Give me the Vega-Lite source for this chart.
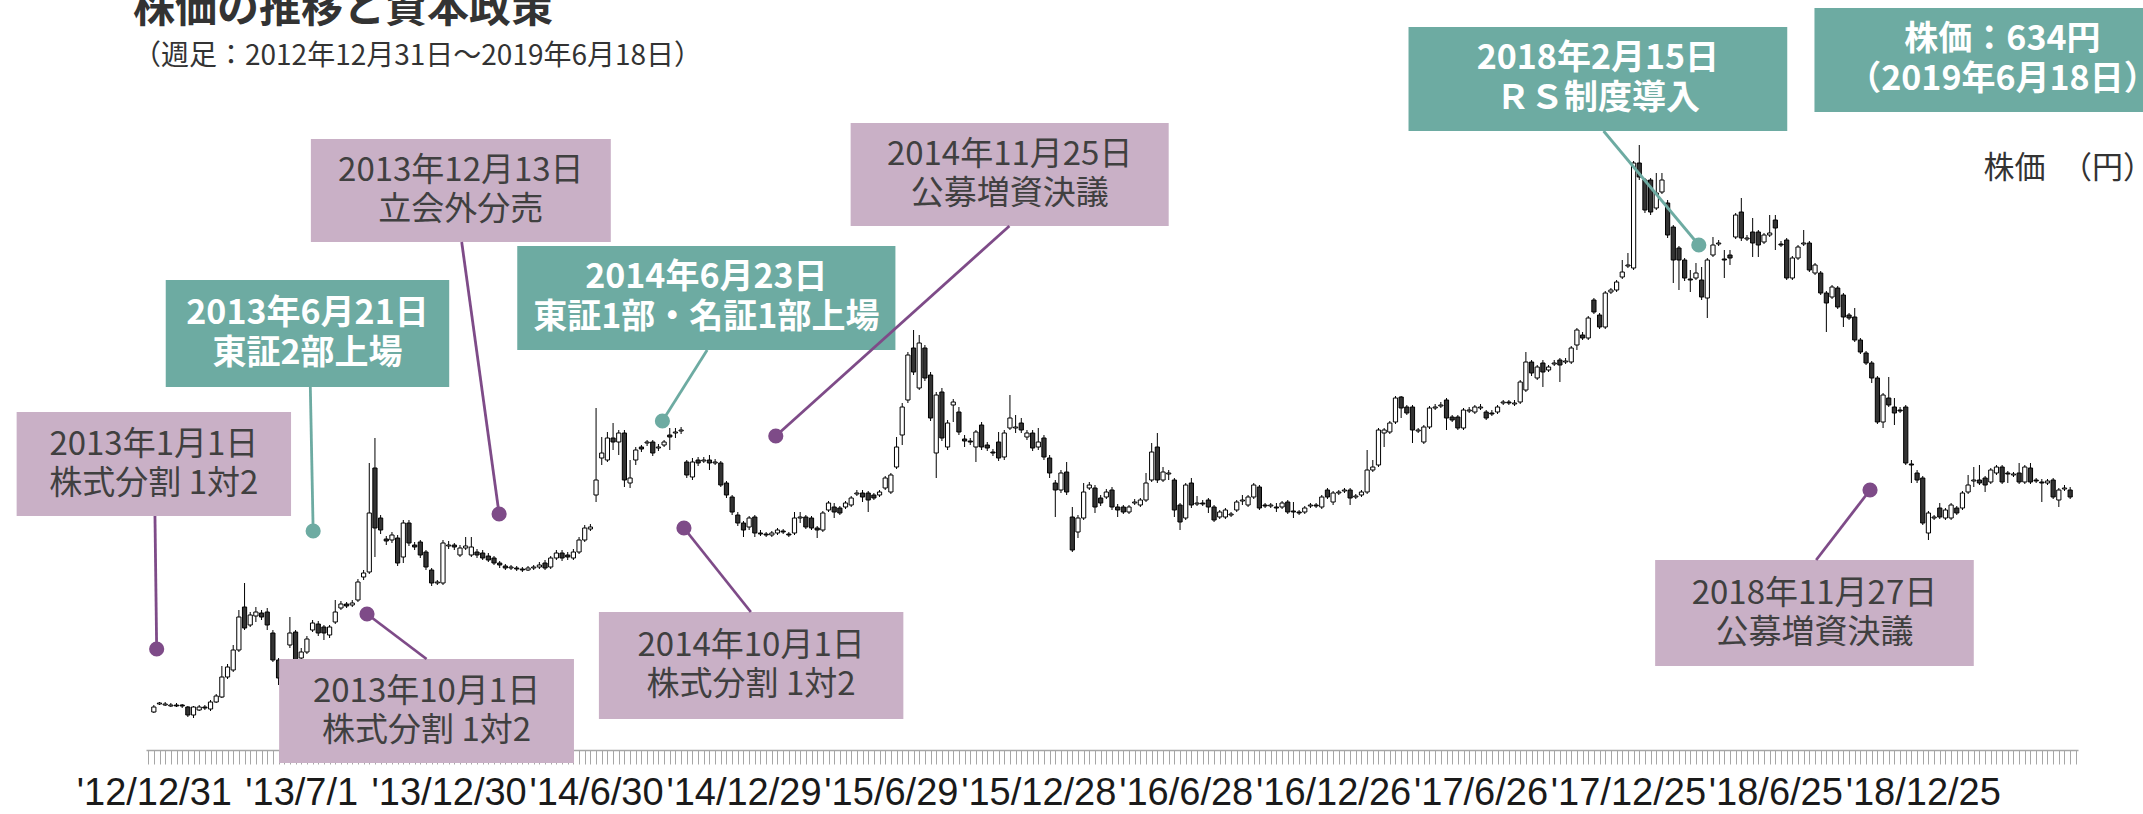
{
"$schema": "https://vega.github.io/schema/vega-lite/v6.json",
"width": 1932, "height": 670,
"padding": {"left": 146, "right": 65, "top": 80, "bottom": 64},
"autosize": "none",
"background": "white",
"config": {"view": {"stroke": null}, "font": "Noto Sans CJK JP"},
"title": {"text": "株価の推移と資本政策", "subtitle": "（週足：2012年12月31日～2019年6月18日）", "anchor": "start", "frame": "group", "orient": "top", "offset": -64, "dx": -13, "font": "Noto Sans CJK JP", "fontSize": 42, "fontWeight": "bold", "color": "#333333", "subtitleFont": "Noto Sans CJK JP", "subtitleFontSize": 28, "subtitleColor": "#333333", "subtitlePadding": 12},
"datasets": {
"candles": [
{"w":0,"o":204,"h":218,"l":202,"c":214},{"w":1,"o":220,"h":224,"l":218,"c":222},{"w":2,"o":218,"h":224,"l":216,"c":220},{"w":3,"o":216,"h":222,"l":214,"c":218},{"w":4,"o":218,"h":222,"l":214,"c":216},
{"w":5,"o":218,"h":220,"l":212,"c":216},{"w":6,"o":214,"h":216,"l":194,"c":198},{"w":7,"o":198,"h":216,"l":192,"c":214},{"w":8,"o":208,"h":218,"l":206,"c":214},{"w":9,"o":214,"h":218,"l":208,"c":212},
{"w":10,"o":210,"h":228,"l":206,"c":224},{"w":11,"o":224,"h":240,"l":222,"c":236},{"w":12,"o":234,"h":296,"l":232,"c":274},{"w":13,"o":274,"h":300,"l":270,"c":294},{"w":14,"o":288,"h":338,"l":284,"c":328},
{"w":15,"o":328,"h":408,"l":324,"c":394},{"w":16,"o":414,"h":462,"l":368,"c":372},{"w":17,"o":378,"h":404,"l":374,"c":398},{"w":18,"o":396,"h":414,"l":384,"c":404},{"w":19,"o":402,"h":408,"l":388,"c":394},
{"w":20,"o":404,"h":412,"l":368,"c":378},{"w":21,"o":362,"h":368,"l":304,"c":308},{"w":22,"o":308,"h":312,"l":258,"c":272},{"w":23,"o":268,"h":308,"l":248,"c":298},{"w":24,"o":338,"h":394,"l":332,"c":362},
{"w":25,"o":364,"h":368,"l":292,"c":304},{"w":26,"o":312,"h":332,"l":306,"c":324},{"w":27,"o":324,"h":356,"l":320,"c":350},{"w":28,"o":368,"h":388,"l":364,"c":382},{"w":29,"o":380,"h":386,"l":356,"c":362},
{"w":30,"o":374,"h":378,"l":348,"c":362},{"w":31,"o":358,"h":378,"l":352,"c":374},{"w":32,"o":384,"h":428,"l":380,"c":404},{"w":33,"o":412,"h":426,"l":408,"c":420},{"w":34,"o":420,"h":424,"l":412,"c":416},
{"w":35,"o":418,"h":428,"l":414,"c":422},{"w":36,"o":428,"h":470,"l":424,"c":464},{"w":37,"o":474,"h":488,"l":468,"c":482},{"w":38,"o":484,"h":702,"l":480,"c":602},{"w":39,"o":692,"h":752,"l":514,"c":572},
{"w":40,"o":592,"h":598,"l":560,"c":568},{"w":41,"o":550,"h":556,"l":538,"c":546},{"w":42,"o":548,"h":564,"l":542,"c":558},{"w":43,"o":552,"h":558,"l":496,"c":502},{"w":44,"o":514,"h":588,"l":502,"c":582},
{"w":45,"o":582,"h":588,"l":536,"c":542},{"w":46,"o":538,"h":544,"l":528,"c":534},{"w":47,"o":544,"h":548,"l":512,"c":518},{"w":48,"o":524,"h":528,"l":488,"c":494},{"w":49,"o":488,"h":492,"l":456,"c":462},
{"w":50,"o":462,"h":468,"l":458,"c":464},{"w":51,"o":462,"h":548,"l":458,"c":542},{"w":52,"o":536,"h":546,"l":530,"c":538},{"w":53,"o":538,"h":542,"l":528,"c":534},{"w":54,"o":518,"h":538,"l":514,"c":532},
{"w":55,"o":532,"h":554,"l":528,"c":536},{"w":56,"o":518,"h":554,"l":514,"c":534},{"w":57,"o":524,"h":530,"l":512,"c":518},{"w":58,"o":522,"h":528,"l":508,"c":512},{"w":59,"o":516,"h":522,"l":504,"c":508},
{"w":60,"o":512,"h":516,"l":498,"c":502},{"w":61,"o":502,"h":506,"l":492,"c":498},{"w":62,"o":496,"h":500,"l":488,"c":492},{"w":63,"o":492,"h":498,"l":488,"c":494},{"w":64,"o":492,"h":496,"l":486,"c":490},
{"w":65,"o":490,"h":494,"l":484,"c":488},{"w":66,"o":488,"h":496,"l":486,"c":492},{"w":67,"o":492,"h":498,"l":488,"c":494},{"w":68,"o":494,"h":504,"l":490,"c":498},{"w":69,"o":502,"h":508,"l":488,"c":492},
{"w":70,"o":494,"h":516,"l":490,"c":512},{"w":71,"o":512,"h":528,"l":508,"c":522},{"w":72,"o":522,"h":528,"l":506,"c":512},{"w":73,"o":518,"h":524,"l":508,"c":514},{"w":74,"o":512,"h":530,"l":508,"c":524},
{"w":75,"o":524,"h":554,"l":520,"c":548},{"w":76,"o":548,"h":578,"l":544,"c":572},{"w":77,"o":570,"h":580,"l":566,"c":574},{"w":78,"o":638,"h":812,"l":624,"c":668},{"w":79,"o":712,"h":754,"l":698,"c":722},
{"w":80,"o":708,"h":764,"l":704,"c":752},{"w":81,"o":752,"h":782,"l":728,"c":744},{"w":82,"o":744,"h":768,"l":718,"c":762},{"w":83,"o":762,"h":768,"l":654,"c":668},{"w":84,"o":662,"h":708,"l":652,"c":672},
{"w":85,"o":708,"h":734,"l":698,"c":728},{"w":86,"o":734,"h":738,"l":724,"c":730},{"w":87,"o":742,"h":748,"l":736,"c":744},{"w":88,"o":744,"h":748,"l":716,"c":722},{"w":89,"o":732,"h":740,"l":726,"c":734},
{"w":90,"o":738,"h":748,"l":734,"c":744},{"w":91,"o":758,"h":772,"l":728,"c":754},{"w":92,"o":762,"h":772,"l":752,"c":764},{"w":93,"o":766,"h":774,"l":760,"c":768},{"w":94,"o":704,"h":708,"l":672,"c":678},
{"w":95,"o":674,"h":712,"l":668,"c":704},{"w":96,"o":708,"h":714,"l":696,"c":702},{"w":97,"o":706,"h":714,"l":702,"c":708},{"w":98,"o":708,"h":718,"l":688,"c":702},{"w":99,"o":702,"h":710,"l":698,"c":704},
{"w":100,"o":702,"h":706,"l":654,"c":658},{"w":101,"o":662,"h":666,"l":632,"c":638},{"w":102,"o":634,"h":638,"l":598,"c":604},{"w":103,"o":598,"h":604,"l":576,"c":582},{"w":104,"o":582,"h":586,"l":554,"c":568},
{"w":105,"o":574,"h":596,"l":568,"c":592},{"w":106,"o":594,"h":598,"l":554,"c":562},{"w":107,"o":562,"h":568,"l":556,"c":560},{"w":108,"o":560,"h":564,"l":554,"c":558},{"w":109,"o":558,"h":566,"l":554,"c":562},
{"w":110,"o":562,"h":572,"l":558,"c":568},{"w":111,"o":566,"h":570,"l":560,"c":564},{"w":112,"o":560,"h":564,"l":554,"c":558},{"w":113,"o":562,"h":604,"l":558,"c":592},{"w":114,"o":592,"h":604,"l":582,"c":594},
{"w":115,"o":594,"h":598,"l":570,"c":574},{"w":116,"o":592,"h":596,"l":568,"c":572},{"w":117,"o":572,"h":576,"l":552,"c":568},{"w":118,"o":568,"h":606,"l":564,"c":602},{"w":119,"o":608,"h":626,"l":604,"c":622},
{"w":120,"o":614,"h":622,"l":592,"c":604},{"w":121,"o":612,"h":616,"l":598,"c":602},{"w":122,"o":614,"h":626,"l":610,"c":622},{"w":123,"o":618,"h":636,"l":614,"c":632},{"w":124,"o":640,"h":648,"l":636,"c":642},
{"w":125,"o":642,"h":648,"l":624,"c":634},{"w":126,"o":642,"h":646,"l":604,"c":628},{"w":127,"o":638,"h":642,"l":628,"c":632},{"w":128,"o":638,"h":648,"l":634,"c":644},{"w":129,"o":652,"h":676,"l":648,"c":672},
{"w":130,"o":644,"h":682,"l":640,"c":678},{"w":131,"o":694,"h":754,"l":690,"c":734},{"w":132,"o":758,"h":822,"l":738,"c":814},{"w":133,"o":828,"h":924,"l":822,"c":918},{"w":134,"o":932,"h":968,"l":878,"c":884},
{"w":135,"o":852,"h":958,"l":848,"c":942},{"w":136,"o":932,"h":938,"l":866,"c":872},{"w":137,"o":878,"h":884,"l":786,"c":792},{"w":138,"o":722,"h":844,"l":672,"c":838},{"w":139,"o":844,"h":852,"l":746,"c":752},
{"w":140,"o":734,"h":788,"l":728,"c":782},{"w":141,"o":818,"h":830,"l":784,"c":824},{"w":142,"o":804,"h":814,"l":758,"c":764},{"w":143,"o":750,"h":758,"l":734,"c":746},{"w":144,"o":746,"h":752,"l":738,"c":744},
{"w":145,"o":734,"h":768,"l":704,"c":764},{"w":146,"o":778,"h":784,"l":728,"c":734},{"w":147,"o":738,"h":744,"l":726,"c":732},{"w":148,"o":724,"h":730,"l":716,"c":722},{"w":149,"o":744,"h":764,"l":706,"c":712},
{"w":150,"o":714,"h":768,"l":708,"c":762},{"w":151,"o":772,"h":838,"l":768,"c":792},{"w":152,"o":772,"h":798,"l":762,"c":774},{"w":153,"o":782,"h":792,"l":762,"c":768},{"w":154,"o":754,"h":768,"l":748,"c":762},
{"w":155,"o":762,"h":768,"l":726,"c":732},{"w":156,"o":734,"h":772,"l":728,"c":744},{"w":157,"o":752,"h":758,"l":708,"c":714},{"w":158,"o":712,"h":718,"l":672,"c":682},{"w":159,"o":662,"h":668,"l":594,"c":648},
{"w":160,"o":648,"h":688,"l":642,"c":682},{"w":161,"o":684,"h":704,"l":638,"c":644},{"w":162,"o":594,"h":614,"l":524,"c":528},{"w":163,"o":564,"h":598,"l":552,"c":592},{"w":164,"o":592,"h":662,"l":588,"c":644},
{"w":165,"o":652,"h":664,"l":648,"c":658},{"w":166,"o":652,"h":658,"l":602,"c":614},{"w":167,"o":632,"h":638,"l":616,"c":622},{"w":168,"o":634,"h":650,"l":630,"c":644},{"w":169,"o":648,"h":654,"l":608,"c":614},
{"w":170,"o":614,"h":620,"l":594,"c":608},{"w":171,"o":614,"h":618,"l":600,"c":604},{"w":172,"o":604,"h":618,"l":600,"c":614},{"w":173,"o":622,"h":630,"l":618,"c":624},{"w":174,"o":618,"h":632,"l":614,"c":628},
{"w":175,"o":628,"h":682,"l":624,"c":662},{"w":176,"o":668,"h":742,"l":664,"c":724},{"w":177,"o":734,"h":762,"l":662,"c":668},{"w":178,"o":668,"h":694,"l":664,"c":684},{"w":179,"o":680,"h":688,"l":668,"c":682},
{"w":180,"o":668,"h":672,"l":594,"c":608},{"w":181,"o":618,"h":622,"l":568,"c":584},{"w":182,"o":592,"h":662,"l":588,"c":658},{"w":183,"o":662,"h":672,"l":612,"c":618},{"w":184,"o":620,"h":636,"l":616,"c":622},
{"w":185,"o":622,"h":628,"l":616,"c":620},{"w":186,"o":628,"h":632,"l":602,"c":614},{"w":187,"o":614,"h":618,"l":584,"c":588},{"w":188,"o":594,"h":608,"l":590,"c":604},{"w":189,"o":594,"h":612,"l":590,"c":608},
{"w":190,"o":598,"h":604,"l":594,"c":600},{"w":191,"o":608,"h":628,"l":604,"c":624},{"w":192,"o":626,"h":638,"l":618,"c":628},{"w":193,"o":618,"h":638,"l":614,"c":634},{"w":194,"o":634,"h":662,"l":630,"c":658},
{"w":195,"o":654,"h":658,"l":608,"c":612},{"w":196,"o":618,"h":622,"l":612,"c":616},{"w":197,"o":616,"h":622,"l":612,"c":618},{"w":198,"o":614,"h":622,"l":604,"c":612},{"w":199,"o":614,"h":626,"l":610,"c":622},
{"w":200,"o":624,"h":628,"l":600,"c":604},{"w":201,"o":606,"h":624,"l":592,"c":604},{"w":202,"o":604,"h":608,"l":598,"c":602},{"w":203,"o":604,"h":616,"l":600,"c":612},{"w":204,"o":616,"h":622,"l":612,"c":618},
{"w":205,"o":618,"h":622,"l":612,"c":616},{"w":206,"o":614,"h":638,"l":610,"c":634},{"w":207,"o":648,"h":652,"l":630,"c":634},{"w":208,"o":624,"h":646,"l":618,"c":642},{"w":209,"o":642,"h":648,"l":638,"c":644},
{"w":210,"o":646,"h":652,"l":642,"c":648},{"w":211,"o":648,"h":652,"l":618,"c":632},{"w":212,"o":634,"h":640,"l":630,"c":636},{"w":213,"o":638,"h":648,"l":634,"c":644},{"w":214,"o":644,"h":728,"l":640,"c":688},
{"w":215,"o":688,"h":708,"l":684,"c":694},{"w":216,"o":698,"h":772,"l":694,"c":768},{"w":217,"o":762,"h":772,"l":734,"c":768},{"w":218,"o":764,"h":786,"l":760,"c":782},{"w":219,"o":784,"h":836,"l":780,"c":832},
{"w":220,"o":834,"h":836,"l":792,"c":812},{"w":221,"o":814,"h":818,"l":798,"c":802},{"w":222,"o":814,"h":818,"l":742,"c":768},{"w":223,"o":766,"h":772,"l":762,"c":768},{"w":224,"o":744,"h":778,"l":740,"c":774},
{"w":225,"o":774,"h":816,"l":770,"c":812},{"w":226,"o":812,"h":820,"l":808,"c":814},{"w":227,"o":816,"h":824,"l":812,"c":818},{"w":228,"o":828,"h":832,"l":768,"c":792},{"w":229,"o":794,"h":798,"l":784,"c":788},
{"w":230,"o":794,"h":798,"l":768,"c":772},{"w":231,"o":772,"h":812,"l":768,"c":808},{"w":232,"o":806,"h":814,"l":802,"c":808},{"w":233,"o":804,"h":818,"l":800,"c":814},{"w":234,"o":812,"h":820,"l":808,"c":814},
{"w":235,"o":804,"h":808,"l":788,"c":792},{"w":236,"o":802,"h":808,"l":796,"c":800},{"w":237,"o":804,"h":818,"l":800,"c":814},{"w":238,"o":822,"h":828,"l":818,"c":824},{"w":239,"o":824,"h":828,"l":818,"c":822},
{"w":240,"o":820,"h":828,"l":816,"c":822},{"w":241,"o":824,"h":868,"l":820,"c":864},{"w":242,"o":848,"h":924,"l":844,"c":904},{"w":243,"o":904,"h":908,"l":876,"c":882},{"w":244,"o":872,"h":898,"l":868,"c":894},
{"w":245,"o":902,"h":908,"l":854,"c":884},{"w":246,"o":888,"h":898,"l":884,"c":894},{"w":247,"o":900,"h":908,"l":896,"c":902},{"w":248,"o":908,"h":912,"l":864,"c":898},{"w":249,"o":904,"h":912,"l":900,"c":906},
{"w":250,"o":904,"h":936,"l":900,"c":932},{"w":251,"o":938,"h":972,"l":928,"c":968},{"w":252,"o":958,"h":964,"l":948,"c":952},{"w":253,"o":952,"h":996,"l":948,"c":992},{"w":254,"o":1028,"h":1032,"l":1000,"c":1004},
{"w":255,"o":998,"h":1002,"l":970,"c":974},{"w":256,"o":974,"h":1046,"l":970,"c":1042},{"w":257,"o":1044,"h":1052,"l":1040,"c":1048},{"w":258,"o":1048,"h":1068,"l":1044,"c":1064},{"w":259,"o":1074,"h":1108,"l":1070,"c":1084},
{"w":260,"o":1096,"h":1122,"l":1092,"c":1098},{"w":261,"o":1092,"h":1306,"l":1088,"c":1302},{"w":262,"o":1302,"h":1338,"l":1268,"c":1274},{"w":263,"o":1268,"h":1272,"l":1202,"c":1208},{"w":264,"o":1268,"h":1272,"l":1198,"c":1204},
{"w":265,"o":1212,"h":1282,"l":1208,"c":1242},{"w":266,"o":1244,"h":1282,"l":1240,"c":1268},{"w":267,"o":1222,"h":1228,"l":1152,"c":1158},{"w":268,"o":1174,"h":1178,"l":1062,"c":1108},{"w":269,"o":1132,"h":1136,"l":1048,"c":1108},
{"w":270,"o":1108,"h":1112,"l":1066,"c":1072},{"w":271,"o":1070,"h":1088,"l":1044,"c":1068},{"w":272,"o":1072,"h":1102,"l":1068,"c":1082},{"w":273,"o":1068,"h":1094,"l":1028,"c":1034},{"w":274,"o":1032,"h":1112,"l":992,"c":1108},
{"w":275,"o":1118,"h":1154,"l":1114,"c":1138},{"w":276,"o":1140,"h":1148,"l":1136,"c":1142},{"w":277,"o":1110,"h":1128,"l":1072,"c":1108},{"w":278,"o":1118,"h":1128,"l":1098,"c":1112},{"w":279,"o":1154,"h":1202,"l":1150,"c":1198},
{"w":280,"o":1204,"h":1232,"l":1146,"c":1152},{"w":281,"o":1150,"h":1158,"l":1146,"c":1152},{"w":282,"o":1164,"h":1192,"l":1114,"c":1142},{"w":283,"o":1164,"h":1168,"l":1114,"c":1138},{"w":284,"o":1144,"h":1162,"l":1140,"c":1158},
{"w":285,"o":1158,"h":1198,"l":1154,"c":1162},{"w":286,"o":1188,"h":1198,"l":1128,"c":1172},{"w":287,"o":1140,"h":1146,"l":1134,"c":1138},{"w":288,"o":1148,"h":1152,"l":1068,"c":1072},{"w":289,"o":1072,"h":1116,"l":1068,"c":1112},
{"w":290,"o":1112,"h":1138,"l":1108,"c":1134},{"w":291,"o":1140,"h":1168,"l":1136,"c":1142},{"w":292,"o":1142,"h":1146,"l":1084,"c":1088},{"w":293,"o":1082,"h":1102,"l":1078,"c":1098},{"w":294,"o":1082,"h":1086,"l":1038,"c":1042},
{"w":295,"o":1042,"h":1046,"l":964,"c":1022},{"w":296,"o":1034,"h":1058,"l":1030,"c":1054},{"w":297,"o":1052,"h":1056,"l":1010,"c":1014},{"w":298,"o":1038,"h":1042,"l":974,"c":994},{"w":299,"o":998,"h":1002,"l":988,"c":992},
{"w":300,"o":994,"h":1012,"l":944,"c":948},{"w":301,"o":948,"h":952,"l":920,"c":924},{"w":302,"o":922,"h":926,"l":898,"c":902},{"w":303,"o":902,"h":906,"l":862,"c":872},{"w":304,"o":872,"h":876,"l":780,"c":784},
{"w":305,"o":784,"h":842,"l":772,"c":838},{"w":306,"o":832,"h":874,"l":814,"c":818},{"w":307,"o":814,"h":832,"l":778,"c":802},{"w":308,"o":808,"h":814,"l":802,"c":806},{"w":309,"o":814,"h":818,"l":698,"c":702},
{"w":310,"o":700,"h":708,"l":662,"c":698},{"w":311,"o":682,"h":688,"l":662,"c":668},{"w":312,"o":672,"h":676,"l":578,"c":582},{"w":313,"o":562,"h":606,"l":548,"c":602},{"w":314,"o":592,"h":598,"l":588,"c":594},
{"w":315,"o":612,"h":622,"l":590,"c":594},{"w":316,"o":592,"h":612,"l":588,"c":608},{"w":317,"o":592,"h":622,"l":588,"c":618},{"w":318,"o":612,"h":616,"l":598,"c":602},{"w":319,"o":612,"h":646,"l":608,"c":642},
{"w":320,"o":644,"h":678,"l":640,"c":658},{"w":321,"o":666,"h":694,"l":654,"c":668},{"w":322,"o":668,"h":698,"l":658,"c":662},{"w":323,"o":672,"h":676,"l":644,"c":658},{"w":324,"o":664,"h":692,"l":660,"c":688},
{"w":325,"o":682,"h":698,"l":678,"c":694},{"w":326,"o":694,"h":698,"l":660,"c":664},{"w":327,"o":682,"h":686,"l":662,"c":680},{"w":328,"o":678,"h":684,"l":674,"c":680},{"w":329,"o":682,"h":702,"l":660,"c":664},
{"w":330,"o":664,"h":698,"l":660,"c":694},{"w":331,"o":692,"h":702,"l":660,"c":664},{"w":332,"o":668,"h":672,"l":662,"c":666},{"w":333,"o":664,"h":670,"l":624,"c":662},{"w":334,"o":662,"h":670,"l":658,"c":666},
{"w":335,"o":668,"h":672,"l":630,"c":634},{"w":336,"o":628,"h":652,"l":614,"c":648},{"w":337,"o":650,"h":658,"l":646,"c":652},{"w":338,"o":648,"h":654,"l":630,"c":634}
],
"events": [
{"label":"2013年1月1日\n株式分割 1対2","kind":"資本政策","bx1":-24.2,"bx2":24.2,"by1":804,"by2":596,"lx":0.2,"ly":596,"px":0.5,"py":330},
{"label":"2013年6月21日\n東証2部上場","kind":"市場","bx1":2.1,"bx2":52.1,"by1":1068,"by2":854,"lx":27.6,"ly":854,"px":28.1,"py":566},
{"label":"2013年12月13日\n立会外分売","kind":"資本政策","bx1":27.7,"bx2":80.6,"by1":1350,"by2":1144,"lx":54.3,"ly":1144,"px":60.9,"py":600},
{"label":"2014年6月23日\n東証1部・名証1部上場","kind":"市場","bx1":64.1,"bx2":130.8,"by1":1136,"by2":928,"lx":97.6,"ly":928,"px":89.7,"py":786},
{"label":"2014年11月25日\n公募増資決議","kind":"資本政策","bx1":122.9,"bx2":179.0,"by1":1382,"by2":1176,"lx":150.9,"ly":1176,"px":109.7,"py":756},
{"label":"2013年10月1日\n株式分割 1対2","kind":"資本政策","bx1":22.1,"bx2":74.1,"by1":310,"by2":102,"lx":48.1,"ly":310,"px":37.6,"py":400},
{"label":"2014年10月1日\n株式分割 1対2","kind":"資本政策","bx1":78.5,"bx2":132.2,"by1":404,"by2":190,"lx":105.3,"ly":404,"px":93.5,"py":572},
{"label":"2018年2月15日\nＲＳ制度導入","kind":"市場","bx1":221.3,"bx2":288.1,"by1":1574,"by2":1366,"lx":255.7,"ly":1366,"px":272.5,"py":1138},
{"label":"株価：634円\n（2019年6月18日）","kind":"市場","bx1":292.9,"bx2":359.2,"by1":1612,"by2":1404},
{"label":"2018年11月27日\n公募増資決議","kind":"資本政策","bx1":264.8,"bx2":321.0,"by1":508,"by2":296,"lx":293.2,"ly":508,"px":302.7,"py":648}
]
},
"layer": [
{"data": {"name": "candles"},
 "mark": {"type": "rule", "color": "#000000", "strokeWidth": 1},
 "encoding": {
  "x": {"field": "w", "type": "quantitative", "scale": {"domain": [-0.5, 338.5], "nice": false, "zero": false},
   "axis": {"title": null, "grid": false, "tickCount": 339, "labelOverlap": false, "labelFlush": false, "labelBound": false, "labelLimit": 0,
    "domainColor": "#a6a6a6", "domainWidth": 1.5, "tickColor": "#a6a6a6", "tickWidth": 1, "tickSize": 14,
    "labelFont": "Liberation Sans", "labelFontSize": 38, "labelColor": "#1a1a1a", "labelPadding": 10,
    "labelExpr": "(datum.value % 26 === 0 && datum.value >= 0 && datum.value <= 312) ? [\"'12/12/31\",\"'13/7/1\",\"'13/12/30\",\"'14/6/30\",\"'14/12/29\",\"'15/6/29\",\"'15/12/28\",\"'16/6/28\",\"'16/12/26\",\"'17/6/26\",\"'17/12/25\",\"'18/6/25\",\"'18/12/25\"][datum.value / 26] : ''"}},
  "y": {"field": "l", "type": "quantitative", "scale": {"domain": [128, 1468], "nice": false, "zero": false}, "axis": null},
  "y2": {"field": "h"}
 }},
{"data": {"name": "candles"},
 "mark": {"type": "bar", "width": 4.2, "stroke": "#000000", "strokeWidth": 1},
 "encoding": {
  "x": {"field": "w", "type": "quantitative", "axis": {"title": null}},
  "y": {"field": "o", "type": "quantitative", "axis": null},
  "y2": {"field": "c"},
  "fill": {"condition": {"test": "datum.c >= datum.o", "value": "#ffffff"}, "value": "#333333"}
 }},
{"data": {"name": "events"},
 "mark": {"type": "rect"},
 "encoding": {
  "x": {"field": "bx1", "type": "quantitative", "axis": {"title": null}},
  "x2": {"field": "bx2"},
  "y": {"field": "by1", "type": "quantitative", "axis": null},
  "y2": {"field": "by2"},
  "fill": {"condition": {"test": "datum.kind === '市場'", "value": "#6DABA2"}, "value": "#C9B0C6"}
 }},
{"data": {"name": "events"},
 "transform": [{"filter": "datum.kind === '資本政策'"}, {"calculate": "(datum.bx1 + datum.bx2) / 2", "as": "cx"}, {"calculate": "(datum.by1 + datum.by2) / 2", "as": "cy"}],
 "mark": {"type": "text", "align": "center", "baseline": "middle", "lineBreak": "\n", "lineHeight": 39, "dy": -19.5, "fontSize": 33, "font": "Noto Sans CJK JP", "color": "#404040"},
 "encoding": {
  "x": {"field": "cx", "type": "quantitative", "axis": {"title": null}},
  "y": {"field": "cy", "type": "quantitative", "axis": null},
  "text": {"field": "label"}
 }},
{"data": {"name": "events"},
 "transform": [{"filter": "datum.kind === '市場'"}, {"calculate": "(datum.bx1 + datum.bx2) / 2", "as": "cx"}, {"calculate": "(datum.by1 + datum.by2) / 2", "as": "cy"}],
 "mark": {"type": "text", "align": "center", "baseline": "middle", "lineBreak": "\n", "lineHeight": 40, "dy": -20, "fontSize": 34, "fontWeight": "bold", "font": "Noto Sans CJK JP", "color": "#ffffff"},
 "encoding": {
  "x": {"field": "cx", "type": "quantitative", "axis": {"title": null}},
  "y": {"field": "cy", "type": "quantitative", "axis": null},
  "text": {"field": "label"}
 }},
{"data": {"name": "events"},
 "transform": [{"filter": "isValid(datum.px)"}],
 "mark": {"type": "rule", "strokeWidth": 2.8},
 "encoding": {
  "x": {"field": "lx", "type": "quantitative", "axis": {"title": null}},
  "x2": {"field": "px"},
  "y": {"field": "ly", "type": "quantitative", "axis": null},
  "y2": {"field": "py"},
  "stroke": {"condition": {"test": "datum.kind === '市場'", "value": "#6DABA2"}, "value": "#7E4B88"}
 }},
{"data": {"name": "events"},
 "transform": [{"filter": "isValid(datum.px)"}],
 "mark": {"type": "circle", "size": 230, "opacity": 1},
 "encoding": {
  "x": {"field": "px", "type": "quantitative", "axis": {"title": null}},
  "y": {"field": "py", "type": "quantitative", "axis": null},
  "fill": {"condition": {"test": "datum.kind === '市場'", "value": "#6DABA2"}, "value": "#7E4B88"}
 }},
{"data": {"values": [{"label": "株価　（円）", "w": 322.7, "p": 1290}]},
 "mark": {"type": "text", "align": "left", "baseline": "middle", "fontSize": 31, "font": "Noto Sans CJK JP", "color": "#333333"},
 "encoding": {
  "x": {"field": "w", "type": "quantitative", "axis": {"title": null}},
  "y": {"field": "p", "type": "quantitative", "axis": null},
  "text": {"field": "label"}
 }}
]
}
